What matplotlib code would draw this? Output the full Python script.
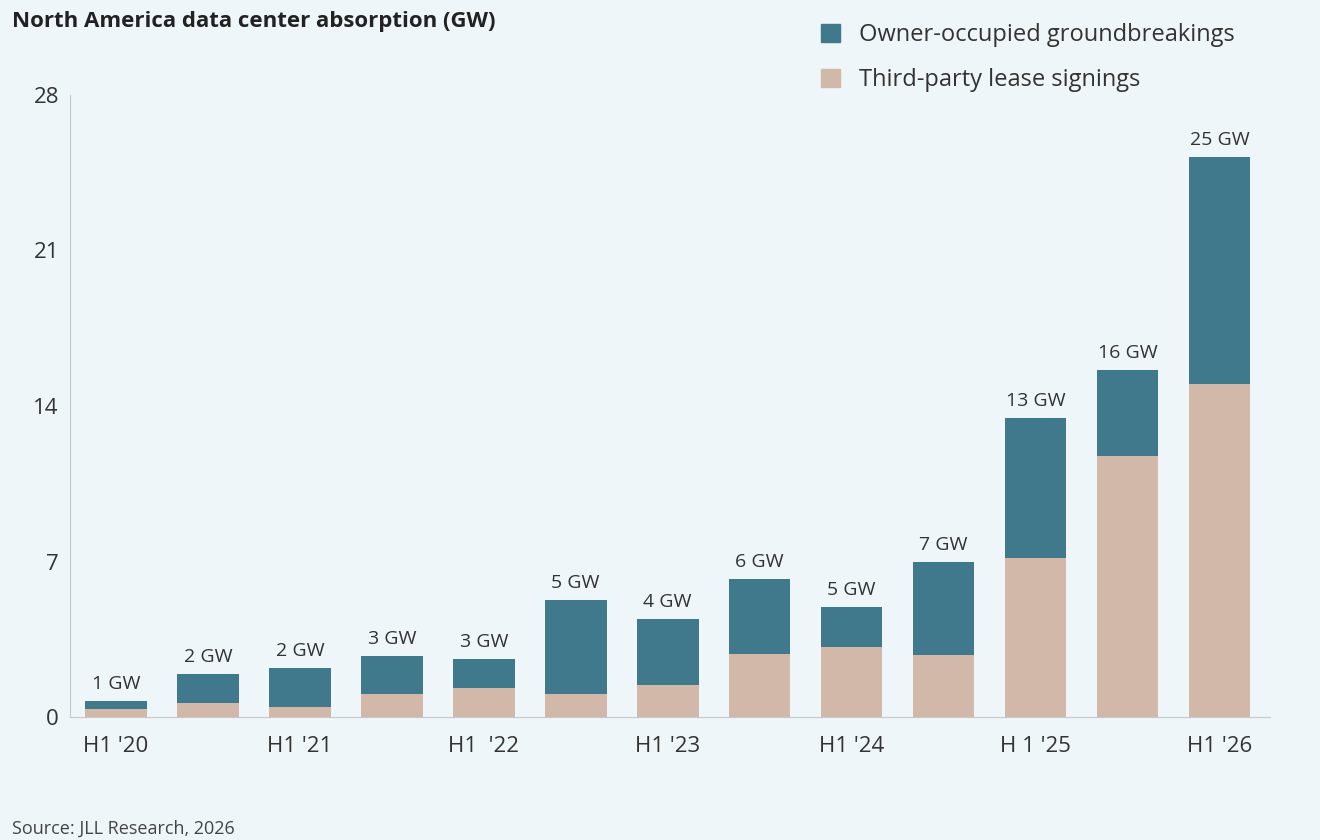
import matplotlib
matplotlib.use("Agg")
import matplotlib.pyplot as plt
from matplotlib.patches import Patch

periods = ["H1 '20","H2 '20","H1 '21","H2 '21","H1 '22","H2 '22","H1 '23","H2 '23","H1 '24","H2 '24","H1 '25","H2 '25","H1 '26"]
tick_labels = ["H1 '20","","H1 '21","","H1  '22","","H1 '23","","H1 '24","","H 1 '25","","H1 '26"]
lease = [0.36,0.63,0.45,1.04,1.31,1.04,1.44,2.84,3.15,2.79,7.16,11.75,14.99]
total = [0.72,1.94,2.2,2.75,2.61,5.27,4.41,6.21,4.95,6.98,13.46,15.62,25.21]
labels = ["1 GW","2 GW","2 GW","3 GW","3 GW","5 GW","4 GW","6 GW","5 GW","7 GW","13 GW","16 GW","25 GW"]
owner = [t-l for t,l in zip(total,lease)]

plt.rcParams['font.family'] = ['Open Sans','DejaVu Sans']
bg = "#EEF6F9"; teal = "#40798C"; tan = "#D2B8A8"; txt = "#333333"
fig = plt.figure(figsize=(13.2,8.4), dpi=100, facecolor=bg)
ax = fig.add_axes([70/1320, 1-717/840, 1200/1320, 622/840], facecolor=bg)
x = range(len(periods))
ax.bar(x, lease, width=0.67, color=tan)
ax.bar(x, owner, bottom=lease, width=0.67, color=teal)
for i,(t,l) in enumerate(zip(total,labels)):
    ax.text(i, t+0.35, l, ha='center', va='bottom', fontsize=14, color=txt)
ax.set_xlim(-0.5, len(periods)-0.45)
ax.set_ylim(0,28)
ax.set_yticks([0,7,14,21,28])
ax.tick_params(axis='y', length=0, labelsize=16, colors=txt, pad=8)
ax.set_xticks(list(x))
ax.set_xticklabels(tick_labels, fontsize=16, color=txt)
ax.tick_params(axis='x', length=0, pad=14)
for s in ['top','right']:
    ax.spines[s].set_visible(False)
for s in ['left','bottom']:
    ax.spines[s].set_color('#c8c8c8')
fig.text(12/1320, 1-22/840, "North America data center absorption (GW)", fontsize=16, fontweight='bold', color='#222222', va='center')
fig.text(12/1320, 1-829/840, "Source: JLL Research, 2026", fontsize=13, color='#444444', va='center')
fig.legend(handles=[Patch(color=teal, label="Owner-occupied groundbreakings"), Patch(color=tan, label="Third-party lease signings")],
           loc='upper left', bbox_to_anchor=(800/1320, 1-2/840), frameon=False, fontsize=17,
           handlelength=0.8, handleheight=0.8, labelspacing=0.9, labelcolor=txt)
fig.savefig("out.png", dpi=100, facecolor=bg)
